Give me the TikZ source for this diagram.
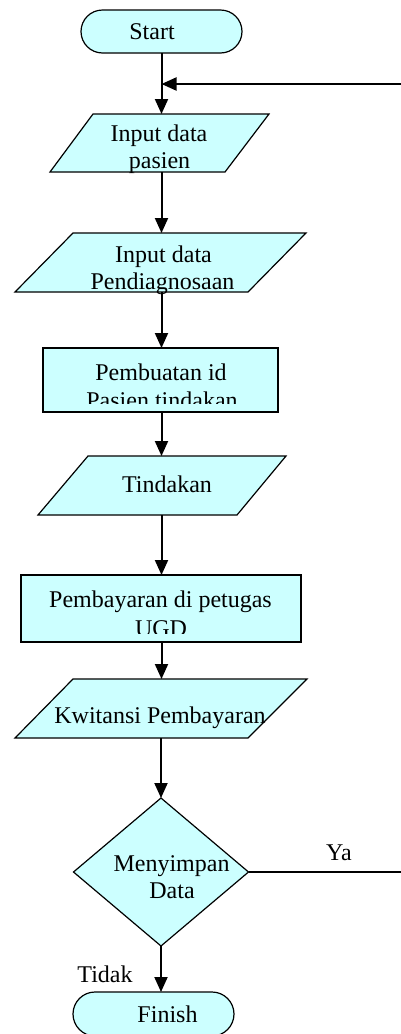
\documentclass[tikz,border=0pt]{standalone}
\usepackage{fontspec}
\setmainfont{Liberation Serif}
\usetikzlibrary{shapes.geometric,shapes.misc,arrows.meta,backgrounds}
\definecolor{boxfill}{HTML}{CCFFFF}
\tikzset{
  txtfont/.style={font=\fontsize{24}{27}\selectfont},
  shapebox/.style={draw=black, line width=1.2pt, fill=boxfill},
  ghost/.style={draw=none, fill=none, inner sep=0pt, outer sep=0pt},
  lbl/.style={anchor=base, inner sep=0pt, txtfont},
  flow/.style={line width=2pt, -{Triangle[length=15pt,width=13pt]}},
  plainline/.style={line width=2pt},
  term/.style={shapebox, rounded rectangle, minimum width=161pt, minimum height=43pt, inner sep=0pt, outer sep=0pt, txtfont},
  proc/.style={shapebox, rectangle, inner sep=0pt, outer sep=0pt},
  dec/.style={shapebox, diamond, inner sep=0pt, outer sep=0pt, minimum width=175pt, minimum height=148pt},
}
\begin{document}
\begin{tikzpicture}[x=1pt,y=-1pt]
\useasboundingbox (0,0) rectangle (401,1034);
\coordinate (axis) at (161.5,0);

% terminals
\node[term] (start) at (161.5,31.5) {Start\hspace*{19pt}};
\node[term, minimum height=44pt] (fin) at (153.5,1014) {\hspace*{28pt}Finish};

% input/output (parallelograms)
\node[ghost, minimum width=219pt, minimum height=58pt] (p1) at (159.5,143) {};
\node[ghost, minimum width=291pt, minimum height=59pt] (p2) at (160.5,262.5) {};
\node[ghost, minimum width=248pt, minimum height=59pt] (p3) at (162,485.5) {};
\node[ghost, minimum width=292pt, minimum height=59pt] (p4) at (161,708.5) {};
\begin{pgfonlayer}{background}
  \path[shapebox] ([xshift=43pt]p1.north west) -- (p1.north east) -- ([xshift=-44pt]p1.south east) -- (p1.south west) -- cycle;
  \path[shapebox] ([xshift=58pt]p2.north west) -- (p2.north east) -- ([xshift=-58pt]p2.south east) -- (p2.south west) -- cycle;
  \path[shapebox] ([xshift=50pt]p3.north west) -- (p3.north east) -- ([xshift=-49pt]p3.south east) -- (p3.south west) -- cycle;
  \path[shapebox] ([xshift=58pt]p4.north west) -- (p4.north east) -- ([xshift=-59pt]p4.south east) -- (p4.south west) -- cycle;
\end{pgfonlayer}

% processes
\node[proc, minimum width=235pt, minimum height=64pt] (r1) at (160.5,380) {};
\node[proc, minimum width=280pt, minimum height=67pt] (r2) at (161,608.5) {};

% decision
\node[dec] (dec) at (161,872) {};

% texts
\node[lbl] (p1a) at (159,141.5) {Input data};
\node[lbl] (p1b) at (159.5,168.5) {pasien};
\node[lbl] (p2a) at (163.5,262.3) {Input data};
\node[lbl] (p2b) at (162.5,289) {Pendiagnosaan};
\node[lbl] (r1a) at (161,380.5) {Pembuatan id};
\begin{scope}
  \clip (r1.north west) rectangle ([yshift=9pt]r1.south east);
  \node[lbl] (r1b) at (162,408) {Pasien tindakan};
\end{scope}
\node[lbl] (p3a) at (167,492) {Tindakan};
\node[lbl] (r2a) at (160.5,607) {Pembayaran di petugas};
\begin{scope}
  \clip (r2.north west) rectangle ([yshift=9pt]r2.south east);
  \node[lbl] (r2b) at (161,636.5) {UGD};
\end{scope}
\node[lbl] (p4a) at (160,723) {Kwitansi Pembayaran};
\node[lbl] (d1) at (171.5,871) {Menyimpan};
\node[lbl] (d2) at (172,898) {Data};
\node[lbl] (tidak) at (105,982) {Tidak};
\node[lbl] (ya) at (339,860) {Ya};

% connectors
\coordinate (loopin) at (401,84);
\coordinate (yaout) at (401,872);
\draw[flow] (start.south -| axis) -- (p1.north -| axis);
\draw[flow] (loopin) -- (loopin -| axis);
\draw[flow] (p1.south -| axis) -- (p2.north -| axis);
\draw[flow] (p2.south -| axis) -- (r1.north -| axis);
\draw[flow] (r1.south -| axis) -- (p3.north -| axis);
\draw[flow] (p3.south -| axis) -- (r2.north -| axis);
\draw[flow] (r2.south -| axis) -- (p4.north -| axis);
\draw[flow] (p4.south -| dec.north) -- (dec.north);
\draw[plainline] (dec.east) -- (yaout);
\draw[flow] (dec.south) -- (dec.south |- fin.north);
\end{tikzpicture}
\end{document}
